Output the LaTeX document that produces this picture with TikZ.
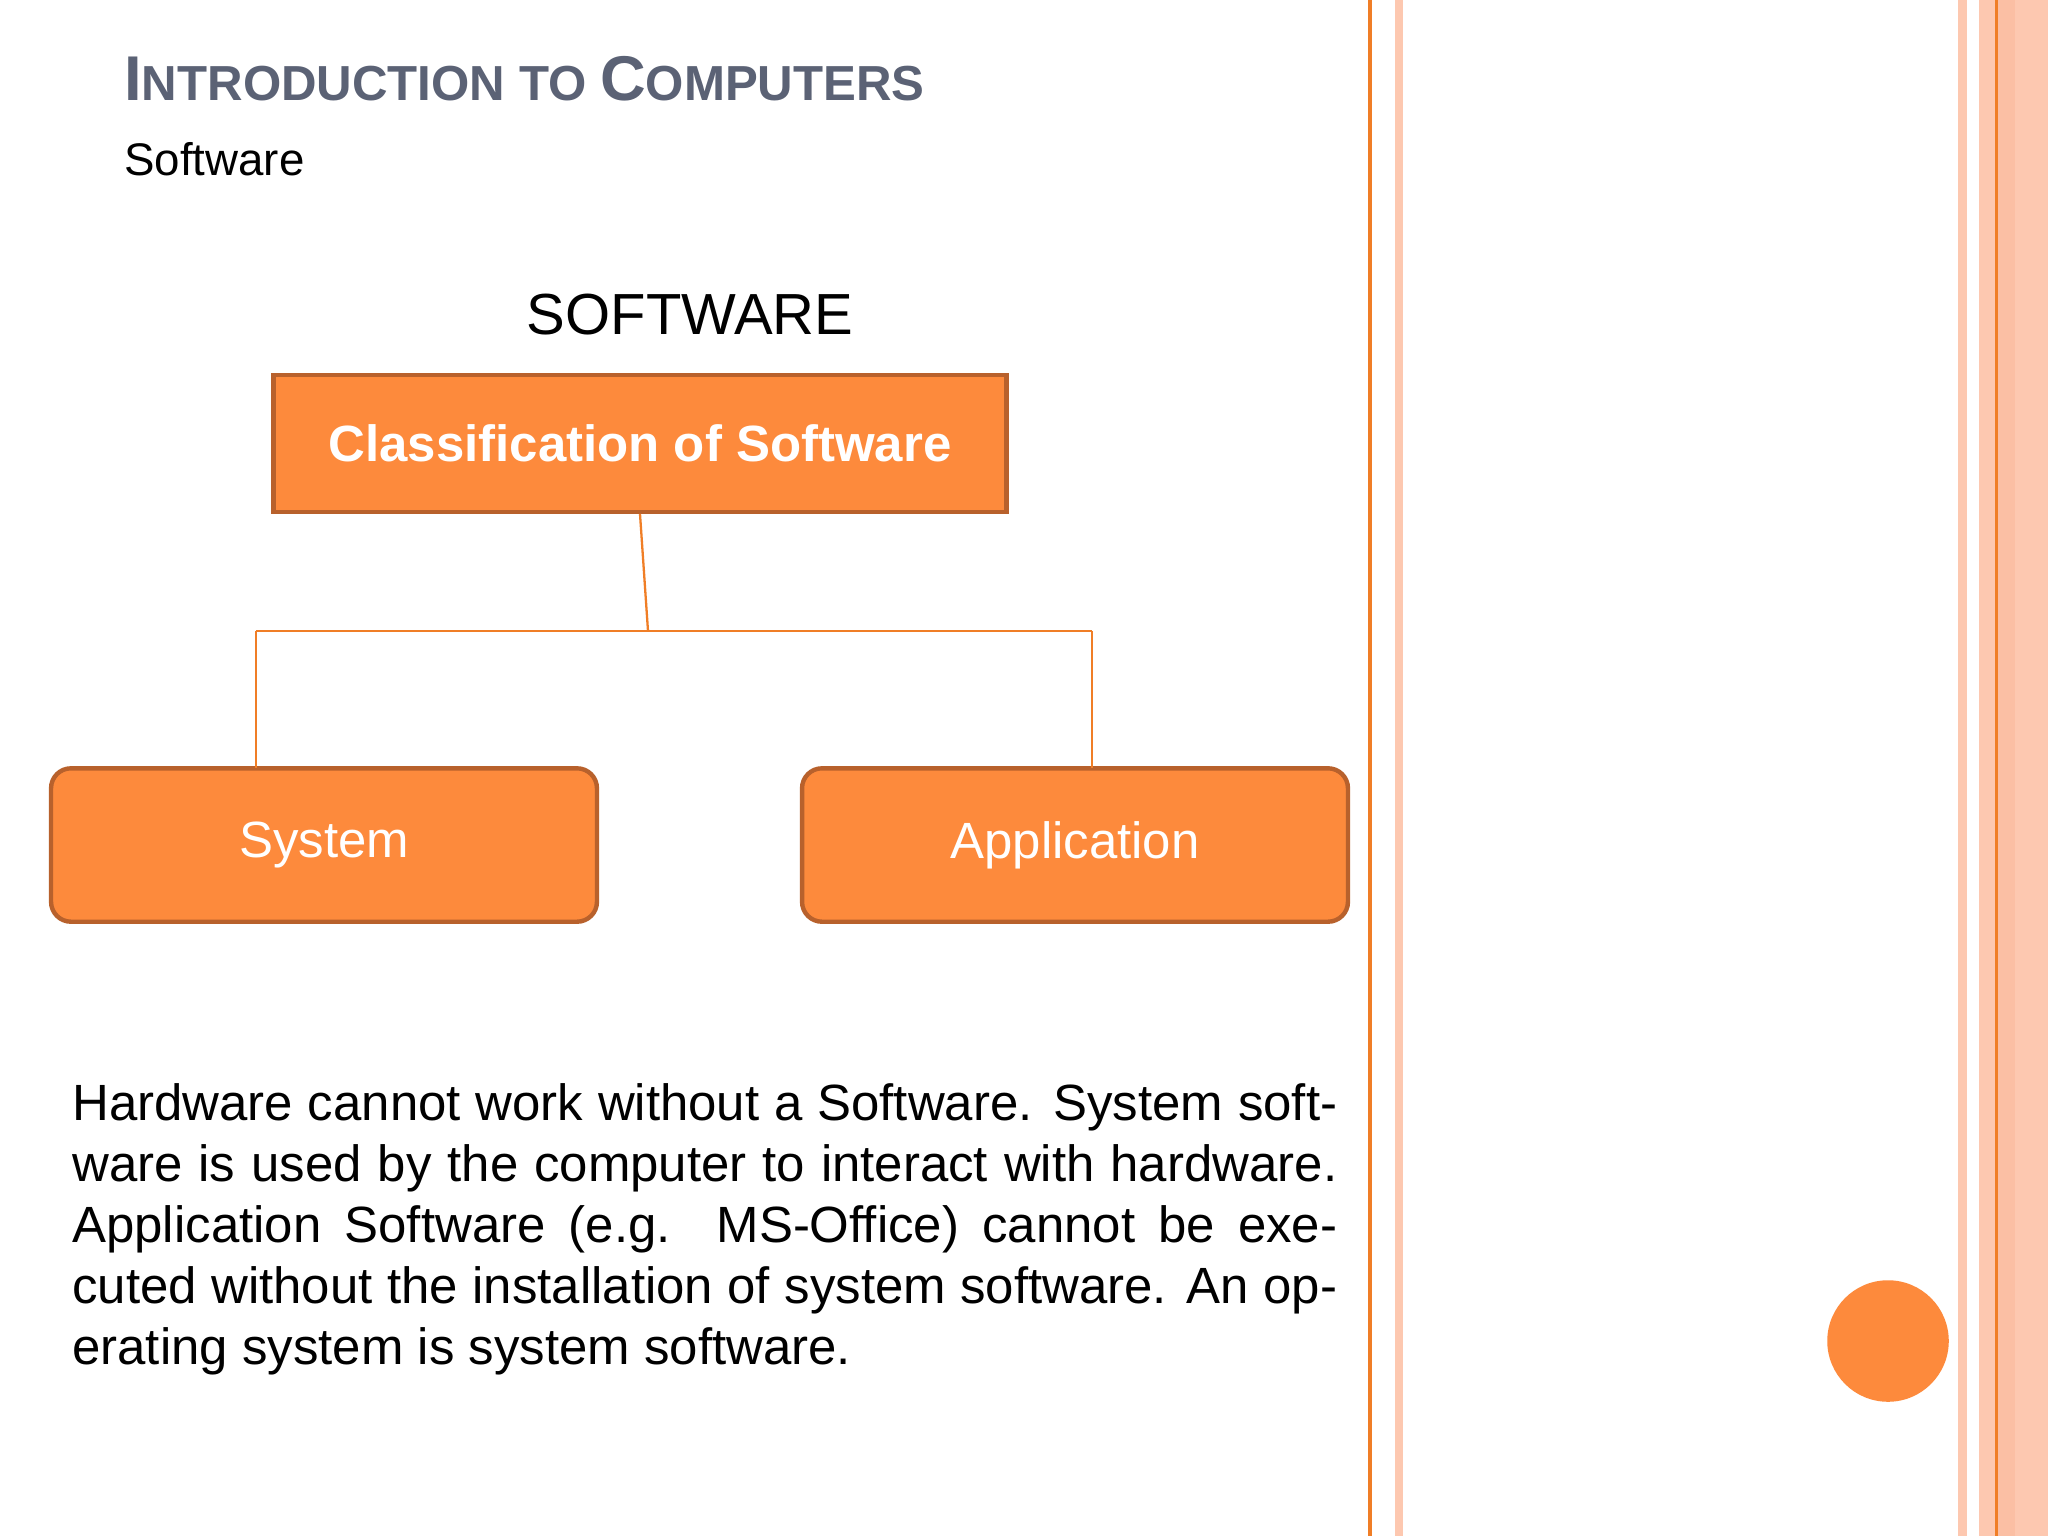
\documentclass[tikz,border=0pt]{standalone}
\usepackage{fontspec}
\setmainfont{Liberation Sans}
\definecolor{org}{HTML}{FD8A3C}
\definecolor{orgd}{HTML}{B8612C}
\definecolor{orgl}{HTML}{F07E26}
\definecolor{pnk}{HTML}{FDC8B0}
\definecolor{pnkd}{HTML}{FBBFA4}
\definecolor{ttl}{HTML}{5B6275}
\tikzset{
 box/.style={fill=org,draw=orgd,line width=2.5pt,text=white,font=\fontsize{29}{34}\selectfont},
 conn/.style={draw=orgl,line width=1.3pt}
}
\begin{document}
\begin{tikzpicture}[x=0.02cm,y=-0.02cm]
\useasboundingbox (0,0) rectangle (2048,1536);
\fill[white] (0,0) rectangle (2048,1536);
% stripes
\fill[orgl] (1368,0) rectangle (1372,1536);
\fill[pnk] (1395,0) rectangle (1403,1536);
\fill[pnk] (1958,0) rectangle (1967,1536);
\fill[pnk] (1979,0) rectangle (1995,1536);
\fill[orgl] (1995,0) rectangle (1998,1536);
\fill[pnkd] (1998,0) rectangle (2015,1536);
\fill[pnk] (2015,0) rectangle (2048,1536);
\node[circle,fill=org,minimum size=122pt*0.567,inner sep=0] (dot) at (1888,1341) {};
% titles
\node[anchor=base west,text=ttl,font=\fontsize{36}{40}\selectfont\bfseries,inner sep=0] (title) at (124,100) {I{\fontsize{28}{30}\selectfont NTRODUCTION TO }C{\fontsize{28}{30}\selectfont OMPUTERS}};
\node[anchor=base west,font=\fontsize{26}{30}\selectfont,inner sep=0] (sub) at (124,175) {Software};
\node[anchor=base,font=\fontsize{33}{38}\selectfont,inner sep=0] (sw) at (690,334) {SOFTWARE};
% boxes
\node[box,font=\fontsize{29}{34}\selectfont\bfseries,minimum width=736*0.567pt,minimum height=137*0.567pt] (cls) at (640,443.5) {Classification of Software};
\node[box,rounded corners=20*0.567pt,minimum width=548*0.567pt,minimum height=154*0.567pt] (sys) at (324,845) {System};
\node[box,rounded corners=20*0.567pt,minimum width=548*0.567pt,minimum height=154*0.567pt] (app) at (1075,845) {Application};
\coordinate (j) at (648,631);
\draw[conn] (cls.south) -- (j);
\draw[conn] (256,631) -- (1092,631);
\draw[conn] (256,631) -- (256,768);
\draw[conn] (1092,631) -- (1092,768);
% paragraph
\node[anchor=north west,inner sep=0,text width=720pt,align=justify,font=\fontsize{29}{34.8}\selectfont] (para) at (72,1083) {Hardware cannot work without a Software. System software is used by the computer to interact with hardware. Application Software (e.g. MS-Office) cannot be executed without the installation of system software. An operating system is system software.};
\end{tikzpicture}
\end{document}
